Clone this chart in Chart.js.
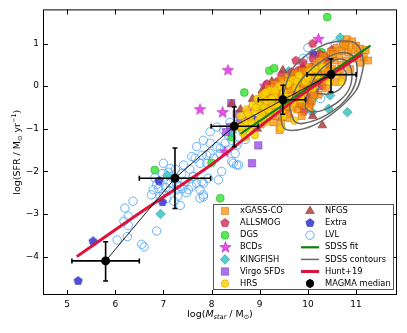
<!DOCTYPE html>
<html>
<head>
<meta charset="utf-8">
<script src="https://cdn.jsdelivr.net/npm/chart.js@4.4.1/dist/chart.umd.min.js"></script>
<style>
  body { margin: 0; background: #fff; }
  canvas { display: block; }
</style>
</head>
<body>
<canvas id="chart" width="407" height="333"></canvas>
<script>
// axis ticks
const xTicks = [5, 6, 7, 8, 9, 10, 11];
const yTicks = [-4, -3, -2, -1, 0, 1];

// samples, [log Mstar, log SFR]
const xgassCO = [
  [9.0,-0.55],[9.05,-0.2],[9.1,-0.75],[9.12,-0.4],[9.18,-0.05],[9.2,-0.6],[9.25,-0.3],[9.28,-0.85],[9.3,0.05],
  [9.33,-0.45],[9.38,-0.15],[9.41,-1.03],[9.42,-0.65],[9.45,0.15],[9.48,-0.3],[9.5,-0.05],[9.55,-0.5],[9.58,0.2],
  [9.6,-0.2],[9.62,-0.75],[9.65,0.0],[9.7,-0.35],[9.72,0.3],[9.75,-0.1],[9.78,-0.55],[9.8,0.1],[9.85,-0.25],
  [9.88,0.35],[9.9,0.0],[9.92,-0.45],[9.95,0.2],[10.0,-0.1],[10.02,0.45],[10.05,0.1],[10.08,-0.35],[10.1,0.3],
  [10.15,0.0],[10.18,0.55],[10.2,0.2],[10.22,-0.2],[10.25,0.4],[10.3,0.1],[10.32,0.7],[10.35,0.3],[10.38,-0.05],
  [10.4,0.5],[10.45,0.2],[10.48,0.8],[10.5,0.4],[10.55,0.6],[10.58,0.1],[10.6,0.9],[10.62,0.35],[10.65,0.7],
  [10.7,0.5],[10.7,0.83],[10.72,0.2],[10.75,1.0],[10.78,0.95],[10.8,0.6],[10.81,1.1],[10.84,0.79],[10.88,0.4],
  [10.9,0.85],[10.95,0.65],[11.0,0.95],[11.05,0.75],[11.1,0.55],[11.16,0.68],[11.2,0.85],[11.25,0.6],
  [9.02,-0.9],[9.08,-0.6],[9.15,-0.25],[9.22,-0.45],[9.27,-0.7],[9.35,-0.2],[9.4,-0.5],[9.44,-0.85],[9.52,-0.35],
  [9.57,-0.65],[9.63,-0.1],[9.68,-0.5],[9.73,0.05],[9.82,-0.4],[9.87,-0.7],[9.93,-0.2],[9.97,0.35],[10.03,-0.5],
  [10.12,-0.2],[10.28,0.6],[10.42,0.35],[10.52,0.75],[10.68,0.4],[10.92,1.05],[11.08,0.88]
];
const allsmog = [
  [10.1,1.0],[9.87,0.41],[9.66,0.33],[10.05,-0.41],[9.91,-0.6],[9.5,-0.05],[9.7,-0.2],[9.8,0.05],[10.0,0.2],
  [10.2,0.35],[10.3,0.0],[9.6,0.15],[9.4,-0.35],[9.2,-0.3],[10.4,0.5],[9.9,0.55],[10.15,-0.15],[9.35,0.1],
  [9.55,-0.55],[10.35,0.7],[9.75,0.6],[10.0,-0.25],[9.45,0.25],[9.62,-0.35],[9.78,0.35],[9.95,-0.05],[10.08,0.45],
  [10.22,0.1],[10.25,0.75],[9.3,-0.15],[9.85,-0.45],[10.5,0.85],[9.15,0.05],[10.1,0.65]
];
const dgs = [[6.82,-1.97],[8.0,-1.8],[8.18,-2.63],[8.42,-1.2],[8.68,-0.15],[9.2,0.36],[9.3,0.42],[10.27,0.8],[10.4,1.62]];
const bcds = [[7.76,-0.55],[8.23,-0.62],[8.34,0.37],[8.78,-0.57],[8.28,-1.55],[9.11,0.0],[9.27,-0.07],[10.22,1.1]];
const kingfish = [
  [6.94,-3.0],[7.08,-2.1],[8.42,-1.08],[8.58,-0.95],[9.02,-0.45],[9.6,0.35],[10.18,0.48],[10.08,-0.33],
  [10.46,-0.22],[10.43,-0.53],[10.09,-0.61],[10.82,-0.61],[10.67,1.14]
];
const virgoSFDs = [[8.39,-0.96],[8.41,-0.4],[8.97,-1.39],[8.84,-1.81],[8.6,-0.85],[8.3,-1.08],[8.52,-0.65]];
const hrs = [
  [8.55,-0.95],[8.6,-0.7],[8.65,-1.1],[8.7,-0.85],[8.72,-0.55],[8.78,-1.0],[8.8,-0.7],[8.85,-0.45],[8.88,-0.9],
  [8.9,-0.6],[8.95,-0.3],[8.98,-0.8],[9.0,-0.45],[9.05,-0.65],[9.08,-0.2],[9.1,-0.5],[9.15,-0.35],[9.2,-0.7],
  [9.22,-0.1],[9.28,-0.45],[9.3,-0.25],[9.35,-0.6],[9.4,0.0],[9.42,-0.35],[9.5,-0.15],[9.55,-0.45],[9.6,0.1],
  [9.65,-0.25],[9.7,0.15],[9.75,-0.05],[9.82,0.25],[9.9,-0.15],[9.95,0.1],[10.05,0.35],[10.1,-0.05],[10.2,0.25],
  [10.3,0.45],[10.45,0.1],[10.6,0.3],[10.7,0.1],[8.9,-1.15],[9.45,-0.98],[9.72,-0.81],[9.48,-0.71],
  [8.62,-0.95],[8.75,-0.65],[8.83,-0.85],[8.92,-0.5],[9.02,-0.75],[9.12,-0.85],[9.18,-0.55],[9.25,-0.3],[9.32,-0.1],
  [9.38,-0.45],[9.46,-0.6],[9.52,-0.25],[9.58,0.05],[9.68,-0.4],[9.78,0.1],[9.86,-0.3],[10.0,0.2],[10.15,0.4],
  [9.12,-0.15],[8.7,-1.2]
];
const nfgs = [
  [8.42,-0.42],[8.6,-0.55],[8.75,-0.75],[8.85,-0.3],[8.95,-1.0],[9.05,-0.1],[9.15,-0.6],[9.25,0.11],[9.3,-0.35],
  [9.45,-0.75],[9.48,0.37],[9.55,0.0],[9.62,-0.4],[9.7,0.2],[9.8,-0.15],[9.9,0.45],[10.0,0.1],[10.1,-0.7],
  [10.15,0.3],[10.3,-0.92],[10.4,0.6]
];
const extra = [[5.23,-4.57],[5.54,-3.64],[6.91,-2.22],[6.98,-2.72],[10.11,0.76],[9.5,-0.55],[8.85,-0.75]];
const lvl = [
  [6.04,-3.61],[6.25,-3.53],[6.27,-3.27],[6.18,-3.17],[6.27,-3.05],[6.20,-2.86],[6.37,-2.70],[6.55,-3.71],[6.60,-3.77],
  [6.86,-3.40],[6.79,-2.43],[6.86,-2.31],[6.93,-2.24],[7.00,-2.51],[7.14,-2.28],[7.20,-2.16],[7.28,-2.43],[7.34,-2.35],
  [7.45,-2.24],[7.52,-2.43],[7.59,-2.35],[7.62,-2.12],[7.69,-2.28],[7.80,-2.24],[7.83,-2.55],[7.93,-2.16],[7.76,-2.63],
  [6.93,-2.59],[7.07,-2.63],[7.00,-1.81],[7.14,-1.93],[7.66,-1.69],[7.80,-1.62],[7.90,-1.81],[6.75,-2.55],[6.82,-2.15],
  [6.98,-2.05],[7.05,-2.38],[7.10,-2.02],[7.25,-1.95],[7.30,-2.58],[7.38,-2.05],[7.42,-1.85],[7.48,-2.50],[7.55,-1.95],
  [7.35,-2.8],[7.22,-2.7],[7.27,-2.3],[6.9,-2.4],[7.4,-2.4],[7.12,-2.45],[7.97,-1.34],[8.11,-1.42],[8.28,-1.34],
  [8.42,-1.27],[8.53,-1.38],[7.90,-1.62],[8.04,-1.69],[8.18,-1.58],[8.32,-1.50],[8.49,-1.58],[8.42,-1.77],[8.14,-2.20],
  [7.97,-1.07],[8.11,-0.96],[8.25,-1.03],[8.59,-0.80],[8.73,-0.76],[7.83,-1.27],[7.69,-1.42],[7.59,-1.65],[7.76,-1.81],
  [7.97,-1.58],[8.18,-1.46],[8.52,-1.85],[7.62,-2.12],[7.83,-2.28],[7.76,-2.43],[7.83,-2.60],[8.45,-1.81],[8.56,-1.85],
  [8.21,-2.0],[8.35,-1.15],[8.65,-1.05],[8.8,-0.95],[8.9,-0.7],[8.5,-0.9],[8.7,-1.25],[8.38,-0.85],
  [9.05,-0.35],[9.3,-0.55],[9.6,-0.1],[10.11,-0.26],[10.26,-0.29],[9.9,0.65],[10.32,0.76],[10.57,0.99],[10.67,0.93],
  [10.45,0.6],[10.0,0.9]
];

// relations
const sdssFitX = [8.6, 11.3];
const sdssFitY = [-1.12, 0.95];
const huntX = [5.2, 6.0, 7.0, 8.0, 9.0, 10.0, 11.12];
const huntY = [-4.0, -3.37, -2.6, -1.84, -0.95, -0.1, 0.74];

// SDSS density contours, outer to inner
const contour1 = [[9.43,-0.57],[9.53,-0.02],[9.7,0.44],[10.05,0.79],[10.4,1.0],[10.75,1.06],[11.02,0.98],[11.15,0.6],
  [11.1,0.2],[11.0,-0.1],[10.68,-0.49],[10.19,-0.88],[9.78,-1.03],[9.5,-0.98],[9.43,-0.57]];
const contour2 = [[9.62,-0.5],[9.75,-0.05],[9.98,0.3],[10.3,0.6],[10.65,0.78],[10.92,0.72],[11.02,0.45],[10.98,0.05],
  [10.8,-0.3],[10.5,-0.6],[10.1,-0.82],[9.75,-0.85],[9.62,-0.5]];
const contour3 = [[9.94,-0.5],[10.0,-0.15],[10.2,0.3],[10.5,0.58],[10.75,0.62],[10.9,0.4],[10.88,0.0],[10.7,-0.3],
  [10.35,-0.55],[10.05,-0.6],[9.94,-0.5]];
const contour4 = [[10.18,-0.17],[10.3,0.15],[10.55,0.4],[10.72,0.42],[10.8,0.22],[10.68,-0.05],[10.45,-0.18],[10.18,-0.17]];

// MAGMA medians with ranges
const magmaX = [5.80, 7.24, 8.47, 9.48, 10.48];
const magmaY = [-4.10, -2.16, -0.94, -0.32, 0.27];
const magmaXLo = [5.10, 6.50, 7.99, 8.97, 9.98];
const magmaXHi = [6.50, 7.98, 8.97, 9.95, 11.0];
const magmaYLo = [-4.57, -2.87, -1.42, -0.66, -0.14];
const magmaYHi = [-3.65, -1.45, -0.49, 0.02, 0.64];

const toPts = (arr) => arr.map(([x, y]) => ({ x, y }));
const zipPts = (xs, ys) => xs.map((x, i) => ({ x, y: ys[i] }));

const markerCanvas = (size, fill, stroke, pathFn) => {
  const c = document.createElement('canvas');
  c.width = size;
  c.height = size;
  const g = c.getContext('2d');
  pathFn(g, size / 2, size / 2);
  g.fillStyle = fill;
  g.fill();
  g.lineWidth = 0.6;
  g.strokeStyle = stroke;
  g.stroke();
  return c;
};
const starPath = (r1, r2) => (g, cx, cy) => {
  g.beginPath();
  for (let i = 0; i < 10; i++) {
    const r = i % 2 ? r2 : r1;
    const a = -Math.PI / 2 + (i * Math.PI) / 5;
    g.lineTo(cx + r * Math.cos(a), cy + r * Math.sin(a));
  }
  g.closePath();
};
const polyPath = (r, n) => (g, cx, cy) => {
  g.beginPath();
  for (let i = 0; i < n; i++) {
    const a = -Math.PI / 2 + (i * 2 * Math.PI) / n;
    g.lineTo(cx + r * Math.cos(a), cy + r * Math.sin(a));
  }
  g.closePath();
};

const starImg = markerCanvas(13, 'rgba(232,60,232,0.9)', 'rgba(170,30,170,0.9)', starPath(6, 2.5));
const pentaRed = markerCanvas(10, 'rgba(214,55,90,0.85)', 'rgba(150,25,55,0.9)', polyPath(4.4, 5));
const pentaBlue = markerCanvas(10, 'rgba(60,60,215,0.9)', 'rgba(35,35,150,0.9)', polyPath(4.4, 5));

const scatterSet = (label, pts, style, radius, bg, border, bw) => ({
  label,
  data: toPts(pts),
  pointStyle: style,
  pointRadius: radius,
  backgroundColor: bg,
  borderColor: border,
  borderWidth: bw,
  showLine: false,
});
const lineSet = (label, pts, color, width, tension) => ({
  label,
  data: pts,
  showLine: true,
  pointRadius: 0,
  borderColor: color,
  backgroundColor: color,
  borderWidth: width,
  tension: tension,
  fill: false,
});

const contourColor = '#6a6a6a';
const datasets = [
  {
    label: 'MAGMA median',
    data: zipPts(magmaX, magmaY),
    pointStyle: 'circle',
    pointRadius: 4.5,
    backgroundColor: '#000',
    borderColor: '#000',
    borderWidth: 0,
    showLine: false,
  },
  lineSet('', zipPts(magmaX, magmaY), '#000', 0.9, 0),
  lineSet('Hunt+19', zipPts(huntX, huntY), '#dc143c', 3, 0.3),
  lineSet('SDSS fit', zipPts(sdssFitX, sdssFitY), '#108010', 2.2, 0),
  lineSet('SDSS contours', toPts(contour1), contourColor, 1.5, 0.4),
  lineSet('', toPts(contour2), contourColor, 1.5, 0.4),
  lineSet('', toPts(contour3), contourColor, 1.5, 0.4),
  lineSet('', toPts(contour4), contourColor, 1.5, 0.4),
  scatterSet('HRS', hrs, 'circle', 3.8, 'rgba(255,212,0,0.85)', 'rgba(200,160,0,0.9)', 0.6),
  scatterSet('xGASS-CO', xgassCO, 'rect', 5, 'rgba(255,145,0,0.75)', 'rgba(190,100,0,0.8)', 0.6),
  scatterSet('ALLSMOG', allsmog, pentaRed, 4, null, null, 0),
  scatterSet('NFGS', nfgs, 'triangle', 5, 'rgba(180,65,65,0.85)', 'rgba(130,40,40,0.9)', 0.6),
  scatterSet('Virgo SFDs', virgoSFDs, 'rect', 5.2, 'rgba(160,90,230,0.85)', 'rgba(120,60,180,0.9)', 0.6),
  scatterSet('KINGFISH', kingfish, 'rectRot', 4.8, 'rgba(64,200,200,0.9)', 'rgba(40,150,150,0.9)', 0.6),
  scatterSet('DGS', dgs, 'circle', 4, 'rgba(70,230,70,0.9)', 'rgba(40,170,40,0.9)', 0.6),
  scatterSet('BCDs', bcds, starImg, 5, null, null, 0),
  scatterSet('Extra', extra, pentaBlue, 4, null, null, 0),
  scatterSet('LVL', lvl, 'circle', 4.2, 'rgba(0,0,0,0)', 'rgba(85,168,250,0.9)', 1.0),
];

const legendCol1 = ['xGASS-CO', 'ALLSMOG', 'DGS', 'BCDs', 'KINGFISH', 'Virgo SFDs', 'HRS'];
const legendCol2 = ['NFGS', 'Extra', 'LVL', 'SDSS fit', 'SDSS contours', 'Hunt+19', 'MAGMA median'];

const drawMarker = (ctx, ds, x, y) => {
  const s = ds.pointStyle;
  if (s instanceof HTMLCanvasElement) {
    ctx.drawImage(s, Math.round(x - s.width / 2), Math.round(y - s.height / 2));
    return;
  }
  const r = ds.pointRadius;
  ctx.beginPath();
  if (s === 'rect') {
    const h = r * Math.SQRT1_2;
    ctx.rect(x - h, y - h, 2 * h, 2 * h);
  } else if (s === 'rectRot') {
    ctx.moveTo(x, y - r);
    ctx.lineTo(x + r, y);
    ctx.lineTo(x, y + r);
    ctx.lineTo(x - r, y);
    ctx.closePath();
  } else if (s === 'triangle') {
    for (let i = 0; i < 3; i++) {
      const a = -Math.PI / 2 + (i * 2 * Math.PI) / 3;
      ctx.lineTo(x + r * Math.cos(a), y + r * Math.sin(a));
    }
    ctx.closePath();
  } else {
    ctx.arc(x, y, r, 0, 2 * Math.PI);
  }
  ctx.fillStyle = ds.backgroundColor;
  ctx.fill();
  ctx.lineWidth = ds.borderWidth || 0.6;
  ctx.strokeStyle = ds.borderColor;
  ctx.stroke();
};

// text made of pieces with their own font and vertical shift
const drawRich = (ctx, parts, cx, cy, rotate) => {
  ctx.save();
  ctx.translate(cx, cy);
  if (rotate) ctx.rotate(-Math.PI / 2);
  let total = 0;
  parts.forEach((p) => {
    ctx.font = p.font;
    p.w = ctx.measureText(p.t).width;
    total += p.w;
  });
  let x = -total / 2;
  ctx.fillStyle = '#000';
  ctx.textBaseline = 'middle';
  ctx.textAlign = 'left';
  parts.forEach((p) => {
    ctx.font = p.font;
    ctx.fillText(p.t, x, p.dy || 0);
    x += p.w;
  });
  ctx.restore();
};

const framePlugin = {
  id: 'frame',
  beforeDatasetDraw(chart, args) {
    if (args.index !== 0) return;
    const { ctx, scales: { x, y } } = chart;
    ctx.save();
    ctx.strokeStyle = '#000';
    ctx.lineWidth = 1.6;
    magmaX.forEach((mx, i) => {
      const px = x.getPixelForValue(mx);
      const py = y.getPixelForValue(magmaY[i]);
      const x0 = x.getPixelForValue(magmaXLo[i]);
      const x1 = x.getPixelForValue(magmaXHi[i]);
      const y0 = y.getPixelForValue(magmaYLo[i]);
      const y1 = y.getPixelForValue(magmaYHi[i]);
      ctx.beginPath();
      ctx.moveTo(x0, py); ctx.lineTo(x1, py);
      ctx.moveTo(px, y0); ctx.lineTo(px, y1);
      ctx.moveTo(x0, py - 2.5); ctx.lineTo(x0, py + 2.5);
      ctx.moveTo(x1, py - 2.5); ctx.lineTo(x1, py + 2.5);
      ctx.moveTo(px - 2.5, y0); ctx.lineTo(px + 2.5, y0);
      ctx.moveTo(px - 2.5, y1); ctx.lineTo(px + 2.5, y1);
      ctx.stroke();
    });
    ctx.restore();
  },
  afterDraw(chart) {
    const { ctx, chartArea: a, scales: { x, y } } = chart;
    ctx.save();
    // frame and inward ticks
    ctx.strokeStyle = '#000';
    ctx.lineWidth = 1;
    ctx.strokeRect(a.left + 0.5, a.top + 0.5, a.right - a.left - 1, a.bottom - a.top - 1);
    ctx.beginPath();
    xTicks.forEach((v) => {
      const px = Math.round(x.getPixelForValue(v)) + 0.5;
      ctx.moveTo(px, a.bottom); ctx.lineTo(px, a.bottom - 5);
      ctx.moveTo(px, a.top); ctx.lineTo(px, a.top + 5);
    });
    yTicks.forEach((v) => {
      const py = Math.round(y.getPixelForValue(v)) + 0.5;
      ctx.moveTo(a.left, py); ctx.lineTo(a.left + 5, py);
      ctx.moveTo(a.right, py); ctx.lineTo(a.right - 5, py);
    });
    ctx.stroke();

    // axis titles
    const main = '9.5px "DejaVu Sans"';
    const small = '6.5px "DejaVu Sans"';
    drawRich(ctx, [
      { t: 'log(', font: main },
      { t: 'M', font: 'oblique 9.5px "DejaVu Sans"' },
      { t: 'star', font: 'oblique 6.5px "DejaVu Sans"', dy: 2.5 },
      { t: ' / M', font: main },
      { t: '\u2299', font: small, dy: 2.5 },
      { t: ')', font: main },
    ], (a.left + a.right) / 2, 315, false);
    drawRich(ctx, [
      { t: 'log(SFR / M', font: main },
      { t: '\u2299', font: small, dy: 2.5 },
      { t: ' yr', font: main },
      { t: '\u22121', font: small, dy: -3.5 },
      { t: ')', font: main },
    ], 18, (a.top + a.bottom) / 2, true);

    // legend box
    const bw = 180, bh = 85;
    const bx = a.right - 4 - bw, by = a.bottom - 6 - bh;
    ctx.fillStyle = 'rgba(255,255,255,0.92)';
    ctx.fillRect(bx, by, bw, bh);
    ctx.strokeStyle = '#555';
    ctx.lineWidth = 1;
    ctx.strokeRect(bx + 0.5, by + 0.5, bw, bh);
    const rowY = (i) => by + 7 + i * 12.1;
    const byLabel = (l) => chart.data.datasets.find((d) => d.label === l);
    ctx.font = '8.3px "DejaVu Sans"';
    ctx.textBaseline = 'middle';
    legendCol1.forEach((l, i) => {
      drawMarker(ctx, byLabel(l), bx + 12, rowY(i));
      ctx.fillStyle = '#000';
      ctx.fillText(l, bx + 27, rowY(i));
    });
    legendCol2.forEach((l, i) => {
      const ds = byLabel(l);
      const cy = rowY(i);
      if (l === 'MAGMA median') {
        ctx.strokeStyle = '#000';
        ctx.lineWidth = 1.6;
        ctx.beginPath();
        ctx.moveTo(bx + 97, cy - 4.5); ctx.lineTo(bx + 97, cy + 4.5);
        ctx.stroke();
        ctx.beginPath();
        ctx.arc(bx + 97, cy, 4, 0, 2 * Math.PI);
        ctx.fillStyle = '#000';
        ctx.fill();
      } else if (ds.showLine) {
        ctx.strokeStyle = ds.borderColor;
        ctx.lineWidth = ds.borderWidth;
        ctx.beginPath();
        ctx.moveTo(bx + 88, cy); ctx.lineTo(bx + 106, cy);
        ctx.stroke();
      } else {
        drawMarker(ctx, ds, bx + 97, cy);
      }
      ctx.fillStyle = '#000';
      ctx.font = '8.3px "DejaVu Sans"';
      ctx.fillText(l, bx + 112, cy);
    });
    ctx.restore();
  },
};

Chart.defaults.font.family = '"DejaVu Sans", sans-serif';
Chart.defaults.color = '#000';

new Chart(document.getElementById('chart'), {
  type: 'scatter',
  data: { datasets },
  options: {
    responsive: false,
    animation: false,
    devicePixelRatio: 1,
    events: [],
    layout: { padding: { top: 9, right: 10, left: 0, bottom: 0 } },
    plugins: {
      legend: { display: false },
      tooltip: { enabled: false },
    },
    scales: {
      x: {
        type: 'linear',
        min: 4.5,
        max: 11.85,
        grid: { display: false, drawTicks: false },
        border: { display: false },
        afterBuildTicks: (s) => { s.ticks = xTicks.map((v) => ({ value: v })); },
        afterFit: (s) => { s.height = 38; },
        ticks: { font: { size: 9 }, color: '#000', padding: 4, maxRotation: 0, autoSkip: false },
      },
      y: {
        type: 'linear',
        min: -4.9,
        max: 1.8,
        grid: { display: false, drawTicks: false },
        border: { display: false },
        afterBuildTicks: (s) => { s.ticks = yTicks.map((v) => ({ value: v })); },
        afterFit: (s) => { s.width = 43; },
        ticks: {
          font: { size: 9 },
          color: '#000',
          padding: 4,
          autoSkip: false,
          callback: (v) => (v < 0 ? '\u2212' + Math.abs(v) : String(v)),
        },
      },
    },
  },
  plugins: [framePlugin],
});
</script>
</body>
</html>
